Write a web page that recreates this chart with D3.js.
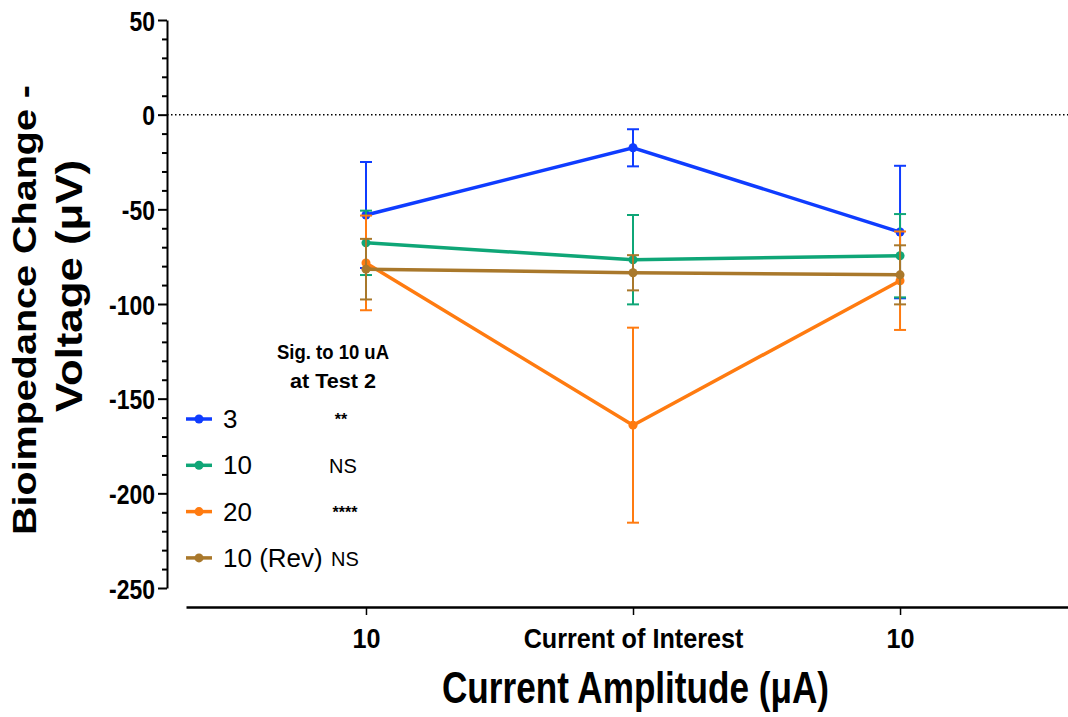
<!DOCTYPE html>
<html>
<head>
<meta charset="utf-8">
<script src="https://cdn.jsdelivr.net/npm/d3@7"></script>
<style>
  body { margin: 0; background: #fff; }
  text { font-family: "Liberation Sans", Arial, sans-serif; }
</style>
</head>
<body>
<div id="chart"></div>
<script>
// data
var xLabels = ["10", "Current of Interest", "10"];
var seriesNames = ["3", "10", "20", "10 (Rev)"];
var sigLabels = ["**", "NS", "****", "NS"];
var colors = ["#0f3cff", "#0fa677", "#ff7b10", "#a9782b"];

var means3 = [-53, -17.5, -62];
var err3 = [28, 9.8, 35];
var means10 = [-67.7, -76.6, -74.5];
var err10 = [17, 23.6, 22];
var means20 = [-78.3, -164, -87.7];
var err20 = [25, 51.5, 26];
var meansRev = [-81.6, -83.5, -84.6];
var errRev = [16, 9.3, 15.6];

var yTicks = [50, 0, -50, -100, -150, -200, -250];

var allMeans = [means3, means10, means20, meansRev];
var allErr = [err3, err10, err20, errRev];

var width = 1068, height = 717;

var svg = d3.select("#chart")
  .append("svg")
    .attr("width", width)
    .attr("height", height);

// scales
var y = d3.scaleLinear()
  .domain([-250, 50])
  .range([588, 20]);

var x = d3.scaleLinear()
  .domain([-0.674, 2.629])
  .range([186, 1068]);

// Y axis (minor ticks every 10)
var yMinor = d3.range(-250, 51, 10).filter(function(v) { return v % 50 != 0; });
svg.append("g")
  .attr("transform", "translate(167,0)")
  .call(d3.axisLeft(y).tickValues(yMinor).tickSize(5).tickFormat(""))
  .call(function(g) { g.select(".domain").remove(); })
  .selectAll("line").attr("stroke", "#000").attr("stroke-width", 2);

var ySx = 0.82;
var yAxis = svg.append("g")
  .attr("transform", "translate(167,0)")
  .call(d3.axisLeft(y).tickValues(yTicks).tickSize(9).tickSizeOuter(0));
yAxis.select(".domain").attr("stroke", "#000").attr("stroke-width", 2);
yAxis.selectAll(".tick line").attr("stroke", "#000").attr("stroke-width", 2);
yAxis.selectAll(".tick text")
  .attr("x", -12 / ySx)
  .attr("dy", "0.36em")
  .attr("transform", "scale(" + ySx + ",1)")
  .style("font-weight", "bold")
  .style("font-size", "28px")
  .attr("fill", "#000")
  .text(function(d) { return d < 0 ? "-" + Math.abs(d) : d; });

// X axis
var xAxis = svg.append("g")
  .attr("transform", "translate(0,607)")
  .call(d3.axisBottom(x).tickValues([0, 1, 2]).tickSize(8).tickSizeOuter(0)
    .tickFormat(function(d) { return xLabels[d]; }));
xAxis.select(".domain").attr("stroke", "#000").attr("stroke-width", 2.5);
xAxis.selectAll(".tick line").attr("stroke", "#000").attr("stroke-width", 1.5);
xAxis.selectAll(".tick text")
  .attr("y", 41)
  .attr("dy", 0)
  .attr("transform", "scale(0.9,1)")
  .style("font-weight", "bold")
  .style("font-size", "28px")
  .attr("fill", "#000");

// zero line
svg.append("line")
  .attr("x1", 167).attr("x2", 1068)
  .attr("y1", y(0)).attr("y2", y(0))
  .attr("stroke", "#000")
  .attr("stroke-width", 1.5)
  .attr("stroke-dasharray", "1.5,2.5");

// axis titles
svg.append("text")
  .attr("x", 442)
  .attr("y", 703)
  .attr("textLength", 387)
  .attr("lengthAdjust", "spacingAndGlyphs")
  .style("font-weight", "bold")
  .style("font-size", "45px")
  .text("Current Amplitude (μA)");

svg.append("text")
  .attr("transform", "translate(36,535) rotate(-90)")
  .attr("textLength", 450)
  .attr("lengthAdjust", "spacingAndGlyphs")
  .style("font-weight", "bold")
  .style("font-size", "34px")
  .text("Bioimpedance Change -");
svg.append("text")
  .attr("transform", "translate(82,412) rotate(-90)")
  .attr("textLength", 252)
  .attr("lengthAdjust", "spacingAndGlyphs")
  .style("font-weight", "bold")
  .style("font-size", "37px")
  .text("Voltage (μV)");

// series: error bars, lines, points
allMeans.forEach(function(means, i) {
  var g = svg.append("g");
  var errs = allErr[i];
  var pts = means.map(function(m, j) { return {x: j, m: m, e: errs[j]}; });

  g.selectAll(".eb")
    .data(pts)
    .enter().append("line")
      .attr("x1", function(d) { return x(d.x); })
      .attr("x2", function(d) { return x(d.x); })
      .attr("y1", function(d) { return y(d.m + d.e); })
      .attr("y2", function(d) { return y(d.m - d.e); })
      .attr("stroke", colors[i])
      .attr("stroke-width", 2);

  [1, -1].forEach(function(s) {
    g.selectAll(".cap" + s)
      .data(pts)
      .enter().append("line")
        .attr("x1", function(d) { return x(d.x) - 6; })
        .attr("x2", function(d) { return x(d.x) + 6; })
        .attr("y1", function(d) { return y(d.m + s * d.e); })
        .attr("y2", function(d) { return y(d.m + s * d.e); })
        .attr("stroke", colors[i])
        .attr("stroke-width", 2);
  });

  g.append("path")
    .datum(pts)
    .attr("fill", "none")
    .attr("stroke", colors[i])
    .attr("stroke-width", 3.5)
    .attr("d", d3.line().x(function(d) { return x(d.x); }).y(function(d) { return y(d.m); }));

  g.selectAll("circle")
    .data(pts)
    .enter().append("circle")
      .attr("cx", function(d) { return x(d.x); })
      .attr("cy", function(d) { return y(d.m); })
      .attr("r", 4.5)
      .attr("fill", colors[i]);
});

// legend
svg.append("text")
  .attr("x", 277).attr("y", 359)
  .attr("textLength", 112)
  .attr("lengthAdjust", "spacingAndGlyphs")
  .style("font-weight", "bold")
  .style("font-size", "20px")
  .text("Sig. to 10 uA");
svg.append("text")
  .attr("x", 290).attr("y", 388)
  .attr("textLength", 86)
  .attr("lengthAdjust", "spacingAndGlyphs")
  .style("font-weight", "bold")
  .style("font-size", "20px")
  .text("at Test 2");

var sigX = [341, 343, 345, 345];
seriesNames.forEach(function(name, i) {
  var ly = 419 + i * 46.3;
  svg.append("line")
    .attr("x1", 186).attr("x2", 212)
    .attr("y1", ly).attr("y2", ly)
    .attr("stroke", colors[i])
    .attr("stroke-width", 3.5);
  svg.append("circle")
    .attr("cx", 199).attr("cy", ly).attr("r", 4.5)
    .attr("fill", colors[i]);
  svg.append("text")
    .attr("x", 223).attr("y", ly + 9)
    .style("font-size", "26px")
    .text(name);
  var isNS = sigLabels[i] == "NS";
  svg.append("text")
    .attr("x", sigX[i]).attr("y", isNS ? ly + 8 : ly + 6)
    .attr("text-anchor", "middle")
    .style("font-size", isNS ? "20px" : "16px")
    .style("font-weight", isNS ? "normal" : "bold")
    .text(sigLabels[i]);
});
</script>
</body>
</html>
